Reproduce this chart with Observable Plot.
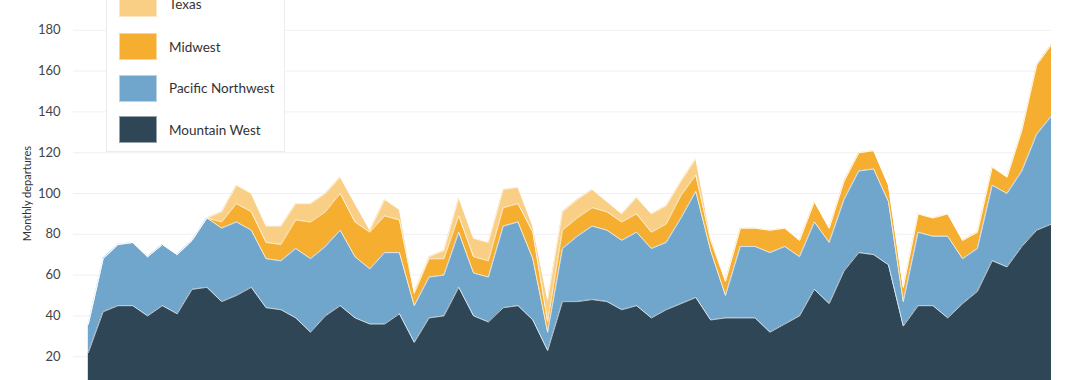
<!DOCTYPE html>
<html><head><meta charset="utf-8">
<script src="https://cdn.jsdelivr.net/npm/d3@7"></script>
<script src="https://cdn.jsdelivr.net/npm/@observablehq/plot@0.6"></script>
<style>
html,body{margin:0;padding:0;background:#fff;overflow:hidden;width:1080px;height:380px;font-family:Lato,"Noto Sans",sans-serif}
#wrap{position:relative;width:1080px;height:380px;overflow:hidden}
#chart{position:absolute;left:0;top:-31px}
#legend{position:absolute;left:106px;top:-22px;width:179px;height:174px;background:#fff;border:1px solid #ececec;box-sizing:border-box}
.item{position:absolute;left:12px;height:27px;display:flex;align-items:center}
.sw{width:38px;height:27px;box-sizing:border-box;border:1px solid rgba(255,255,255,0.5)}
.lab{margin-left:12px;font-size:13.5px;color:#333;white-space:nowrap}
</style></head>
<body><div id="wrap"><div id="chart"></div><div id="legend"></div></div>
<script>
const regions = ["Mountain West","Pacific Northwest","Midwest","Texas"];
const colors = ["#2f4656","#70a5cc","#f5ae30","#f9cf85"];
const yTicks = [20,40,60,80,100,120,140,160,180];
const monthIndex = d3.range(66);
const mountainWest = [22,42,45,45,40,45,41,53,54,47, 50,54,44,43,39,32,40,45,39,36, 36,41,27,39,40,54,40,37,44,45, 38,23,47,47,48,47,43,45,39,43, 46,49,38,39,39,39,32,36,40,53, 46,62,71,70,65,35,45,45,39,46, 52,67,64,74,82,85];
const pacificNorthwest = [14,26,30,31,29,30,29,24,34,36, 36,28,24,24,34,36,34,37,30,27, 35,30,18,20,20,27,21,22,40,41, 30,9,26,32,36,35,34,36,34,33, 42,52,34,11,35,35,39,38,29,33, 30,35,40,42,31,12,36,34,40,22, 21,37,36,37,47,53];
const midwest = [0,0,0,0,0,0,0,0,0,3, 9,9,8,8,14,18,17,18,17,18, 18,16,6,9,8,8,8,8,9,9, 13,5,9,9,9,9,9,9,8,9, 11,8,5,7,9,9,11,9,8,10, 7,9,9,9,8,7,9,9,11,9, 8,9,8,20,34,35];
const texas = [0,0,0,0,0,0,0,0,0,5, 9,9,8,9,8,9,9,8,9,1, 8,5,1,1,4,9,9,9,9,8, 3,11,9,9,9,5,4,8,9,9, 7,8,2,0,0,0,0,0,0,0, 0,0,0,0,0,0,0,0,0,0, 0,0,0,0,0,0];
const series = [mountainWest, pacificNorthwest, midwest, texas];
const data = monthIndex.flatMap(i => regions.map((r, k) => ({i, region: r, value: series[k][i]})));

const chart = Plot.plot({
  width: 1080, height: 460,
  marginTop: 20, marginBottom: 32, marginLeft: 73, marginRight: 29,
  style: {fontFamily: "Lato, sans-serif", background: "transparent"},
  x: {domain: [-1, 65], axis: null},
  y: {domain: [0, 200]},
  color: {domain: regions, range: colors},
  marks: [
    Plot.gridY(yTicks, {stroke: "#f0f0f0", strokeOpacity: 1}),
    Plot.areaY(data, {x: "i", y: "value", z: "region", fill: "region", order: regions}),
    Plot.lineY(data, Plot.stackY2({x: "i", y: "value", z: "region", order: regions, stroke: "#ffffff", strokeOpacity: 0.7, strokeWidth: 1})),
    Plot.axisY({ticks: yTicks, tickSize: 0, tickPadding: 13, fontSize: 13, fill: "#444", label: null}),
    Plot.axisY({ticks: [], label: "Monthly departures", labelAnchor: "center", labelArrow: "none", labelOffset: 50, fontSize: 11, fill: "#333"})
  ]
});
document.getElementById("chart").appendChild(chart);

const tops = [11, 54, 95.5, 137];
const legend = document.getElementById("legend");
[3, 2, 1, 0].forEach((k, j) => {
  const it = document.createElement("div");
  it.className = "item";
  it.style.top = tops[j] + "px";
  it.innerHTML = `<div class="sw" style="background:${colors[k]}"></div><div class="lab">${regions[k]}</div>`;
  legend.appendChild(it);
});
</script></body></html>
